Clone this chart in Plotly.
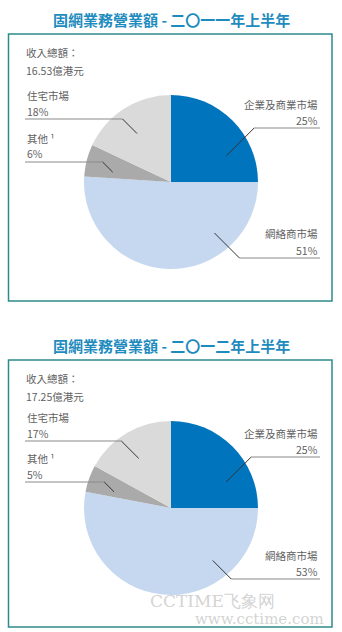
import math
import plotly.graph_objects as go

W, H = 342, 632

# ---- data ----
categories = ["企業及商業市場", "網絡商市場", "其他", "住宅市場"]
label_names = ["企業及商業市場", "網絡商市場", "其他 ¹", "住宅市場"]
values_2011 = [25, 51, 6, 18]
values_2012 = [25, 53, 5, 17]
titles = ["固網業務營業額 - 二〇一一年上半年", "固網業務營業額 - 二〇一二年上半年"]
totals = ["16.53億港元", "17.25億港元"]
total_label = "收入總額："

colors = ["#0075BE", "#C6D8F0", "#AAAAAA", "#DADADA"]
side = ["right", "right", "left", "left"]
# where the leader line touches the slice (fraction of slice angle, fraction of radius)
anchor_frac = [0.72, 0.27, 0.28, 0.46]
anchor_rad = [0.70, 0.77, 0.68, 0.68]
# horizontal leader line offsets from pie centre (px), per chart
line_offsets = [[-54, 76, -20, -63], [-51, 71, -26, -67]]

panels = [
    dict(values=values_2011, title=titles[0], total=totals[0], top=0),
    dict(values=values_2012, title=titles[1], total=totals[1], top=326),
]

CX, CY0, R = 171, 182, 87
TEXT = "#5F5F5F"
FONT = "Noto Sans CJK TC"


def X(px):
    return px / W


def Y(py):
    return 1 - py / H


fig = go.Figure()
shapes = []
annotations = []

for i, p in enumerate(panels):
    t = p["top"]
    cy = CY0 + t
    fig.add_trace(go.Pie(
        labels=categories, values=p["values"], sort=False, direction="clockwise",
        rotation=0, marker=dict(colors=colors, line=dict(width=0)),
        textinfo="none", hoverinfo="label+percent", showlegend=False,
        domain=dict(x=[X(CX - R), X(CX + R)], y=[Y(cy + R), Y(cy - R)]),
    ))
    # box
    shapes.append(dict(type="rect", xref="paper", yref="paper",
                       x0=X(8.5), x1=X(332), y0=Y(34 + t), y1=Y(301 + t),
                       line=dict(color="#2E8B8B", width=1.5), fillcolor="rgba(0,0,0,0)"))
    # title
    annotations.append(dict(text=p["title"], x=X(171), y=Y(19 + t),
                            xref="paper", yref="paper", showarrow=False,
                            xanchor="center", yanchor="middle",
                            font=dict(size=15, color="#1E8BBE", family=FONT, weight="bold")))
    # total
    annotations.append(dict(text=total_label, x=X(24), y=Y(52 + t), xref="paper", yref="paper",
                            showarrow=False, xanchor="left", yanchor="middle",
                            font=dict(size=10.5, color=TEXT, family=FONT)))
    annotations.append(dict(text=p["total"], x=X(24), y=Y(70 + t), xref="paper", yref="paper",
                            showarrow=False, xanchor="left", yanchor="middle",
                            font=dict(size=10.5, color=TEXT, family=FONT)))
    # leader lines + labels
    tot = sum(p["values"])
    start = 0.0
    for k, v in enumerate(p["values"]):
        span = 360.0 * v / tot
        ang = math.radians(start + anchor_frac[k] * span)
        start += span
        ax = CX + anchor_rad[k] * R * math.sin(ang)
        ay = cy - anchor_rad[k] * R * math.cos(ang)
        ly = cy + line_offsets[i][k]
        d = abs(ay - ly)
        if side[k] == "right":
            ex = ax + d
            hx0, hx1 = ex, 320
            tx, xa = 320, "right"
        else:
            ex = ax - d
            hx0, hx1 = 25, ex
            tx, xa = 25, "left"
        shapes.append(dict(type="line", xref="paper", yref="paper",
                           x0=X(hx0), x1=X(hx1), y0=Y(ly), y1=Y(ly),
                           line=dict(color="#8A8A8A", width=1.2)))
        shapes.append(dict(type="line", xref="paper", yref="paper",
                           x0=X(ex), x1=X(ax), y0=Y(ly), y1=Y(ay),
                           line=dict(color="#333333", width=1)))
        annotations.append(dict(text=label_names[k], x=X(tx), y=Y(ly - 24), xref="paper",
                                yref="paper", showarrow=False, xanchor=xa, yanchor="middle",
                                font=dict(size=10.5, color=TEXT, family=FONT)))
        annotations.append(dict(text=f"{v}%", x=X(tx), y=Y(ly - 8), xref="paper",
                                yref="paper", showarrow=False, xanchor=xa, yanchor="middle",
                                font=dict(size=10.5, color=TEXT, family=FONT)))

# watermark
annotations.append(dict(text="CCTIME飞象网", x=X(212), y=Y(601), xref="paper", yref="paper",
                        showarrow=False, xanchor="center", yanchor="middle",
                        font=dict(size=17, color="rgba(200,200,200,0.8)", family="DejaVu Serif")))
annotations.append(dict(text="www.cctime.com", x=X(326), y=Y(619), xref="paper", yref="paper",
                        showarrow=False, xanchor="right", yanchor="middle",
                        font=dict(size=15, color="rgba(200,200,200,0.8)", family="DejaVu Serif")))

fig.update_layout(width=W, height=H, margin=dict(l=0, r=0, t=0, b=0),
                  paper_bgcolor="white", plot_bgcolor="white",
                  shapes=shapes, annotations=annotations)
fig.write_html("out.html")
